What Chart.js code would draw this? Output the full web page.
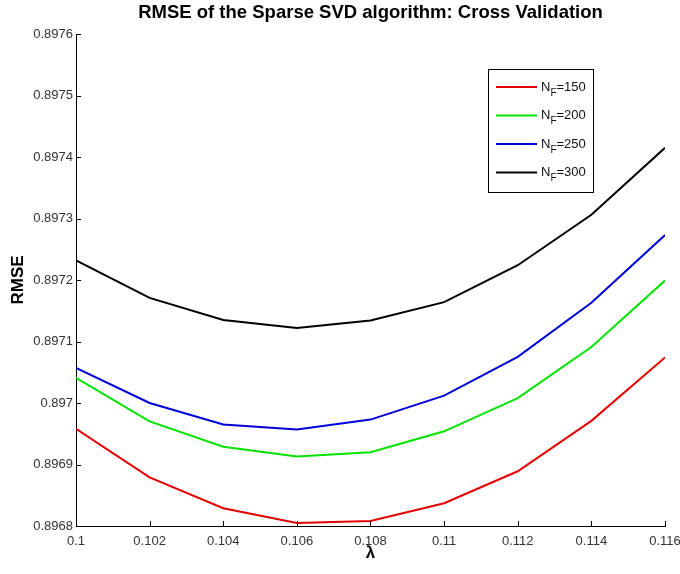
<!DOCTYPE html>
<html>
<head>
<meta charset="utf-8">
<script src="https://cdn.jsdelivr.net/npm/chart.js@4"></script>
<style>
  html, body { margin: 0; padding: 0; background: #fff; }
  #wrap { width: 680px; height: 574px; }
</style>
</head>
<body>
<div id="wrap"><canvas id="myChart" width="680" height="574"></canvas></div>
<script>
// lambda values (x) and RMSE per number of features
var lambdas = [0.1, 0.102, 0.104, 0.106, 0.108, 0.11, 0.112, 0.114, 0.116];
var rmse150 = [0.896958, 0.896879, 0.896829, 0.896805, 0.896808, 0.896837, 0.896889, 0.896971, 0.897074];
var rmse200 = [0.897041, 0.896970, 0.896929, 0.896913, 0.896920, 0.896954, 0.897008, 0.897091, 0.897199];
var rmse250 = [0.897057, 0.897000, 0.896965, 0.896957, 0.896973, 0.897012, 0.897075, 0.897163, 0.897273];
var rmse300 = [0.897232, 0.897171, 0.897135, 0.897122, 0.897134, 0.897164, 0.897224, 0.897306, 0.897415];
var seriesNames = ['150', '200', '250', '300'];
var seriesColors = ['rgb(228,0,0)', 'rgb(0,228,0)', 'rgb(0,0,215)', 'rgb(0,0,0)'];
var xTicks = [0.1, 0.102, 0.104, 0.106, 0.108, 0.11, 0.112, 0.114, 0.116];
var yTicks = [0.8968, 0.8969, 0.897, 0.8971, 0.8972, 0.8973, 0.8974, 0.8975, 0.8976];

var sans = '"Liberation Sans", Arial, sans-serif';
var tickFont = { family: sans, size: 13 };

function toPoints(vals) {
    return lambdas.map(function (l, i) { return { x: l, y: vals[i] }; });
}

var allSeries = [rmse150, rmse200, rmse250, rmse300];
var datasets = allSeries.map(function (vals, i) {
    return {
        label: 'NF=' + seriesNames[i],
        data: toPoints(vals),
        borderColor: seriesColors[i],
        backgroundColor: seriesColors[i],
        borderWidth: 2,
        pointRadius: 0,
        tension: 0,
        fill: false
    };
});

// title, inward tick marks and the legend box with the F subscript
var extras = {
    id: 'extras',
    afterDraw: function (chart) {
        var c = chart.ctx;
        var area = chart.chartArea;
        var xs = chart.scales.x, ys = chart.scales.y;
        c.save();
        c.strokeStyle = '#000';
        c.lineWidth = 1;
        c.beginPath();
        xTicks.forEach(function (t) {
            var px = Math.round(xs.getPixelForValue(t)) + 0.5;
            c.moveTo(px, area.bottom);
            c.lineTo(px, area.bottom - 5);
        });
        yTicks.forEach(function (t) {
            var py = Math.round(ys.getPixelForValue(t)) + 0.5;
            c.moveTo(area.left, py);
            c.lineTo(area.left + 5, py);
        });
        c.stroke();

        // title
        c.fillStyle = '#000';
        c.font = 'bold 18.5px ' + sans;
        c.textAlign = 'center';
        c.textBaseline = 'middle';
        c.fillText('RMSE of the Sparse SVD algorithm: Cross Validation', (area.left + area.right) / 2, 13);

        // legend
        var bx = 488, by = 69, bw = 105, bh = 123;
        c.fillStyle = '#fff';
        c.fillRect(bx, by, bw, bh);
        c.strokeStyle = '#000';
        c.lineWidth = 1;
        c.strokeRect(bx + 0.5, by + 0.5, bw, bh);
        seriesNames.forEach(function (n, i) {
            var ry = by + 18 + i * 28.5;
            c.strokeStyle = seriesColors[i];
            c.lineWidth = 2;
            c.beginPath();
            c.moveTo(bx + 8, ry);
            c.lineTo(bx + 49, ry);
            c.stroke();
            c.fillStyle = '#111';
            c.textAlign = 'left';
            c.textBaseline = 'middle';
            c.font = '13px ' + sans;
            var tx = bx + 53;
            c.fillText('N', tx, ry);
            tx += c.measureText('N').width;
            c.font = '10px ' + sans;
            c.fillText('F', tx, ry + 6);
            tx += c.measureText('F').width;
            c.font = '13px ' + sans;
            c.fillText('=' + n, tx, ry);
        });
        c.restore();
    }
};

var ctx = document.getElementById('myChart').getContext('2d');
var myChart = new Chart(ctx, {
    type: 'line',
    data: { datasets: datasets },
    plugins: [extras],
    options: {
        responsive: false,
        animation: false,
        layout: { padding: { top: 34, right: 0, bottom: 0, left: 0 } },
        plugins: {
            legend: { display: false },
            title: { display: false },
            tooltip: { enabled: false }
        },
        scales: {
            x: {
                type: 'linear',
                min: 0.1,
                max: 0.116,
                afterBuildTicks: function (s) {
                    s.ticks = xTicks.map(function (v) { return { value: v }; });
                },
                afterFit: function (s) {
                    s.height = 48;
                    s.paddingRight = 15;
                },
                ticks: {
                    color: '#333',
                    font: tickFont,
                    padding: 8,
                    maxRotation: 0,
                    autoSkip: false,
                    callback: function (v) { return String(parseFloat(v.toFixed(4))); }
                },
                grid: { display: false, tickLength: 0 },
                border: { display: true, color: '#000', width: 1 },
                title: {
                    display: true,
                    text: 'λ',
                    color: '#000',
                    font: { family: sans, size: 17, weight: 'bold' },
                    padding: { top: 0, bottom: 10 }
                }
            },
            y: {
                type: 'linear',
                min: 0.8968,
                max: 0.8976,
                afterBuildTicks: function (s) {
                    s.ticks = yTicks.map(function (v) { return { value: v }; });
                },
                afterFit: function (s) { s.width = 76; },
                ticks: {
                    color: '#333',
                    font: tickFont,
                    padding: 3,
                    callback: function (v) { return String(parseFloat(v.toFixed(4))); }
                },
                grid: { display: false, tickLength: 0 },
                border: { display: true, color: '#000', width: 1 },
                title: {
                    display: true,
                    text: 'RMSE',
                    color: '#000',
                    font: { family: sans, size: 17, weight: 'bold' },
                    padding: { top: 8, bottom: 0 }
                }
            }
        }
    }
});
</script>
</body>
</html>
